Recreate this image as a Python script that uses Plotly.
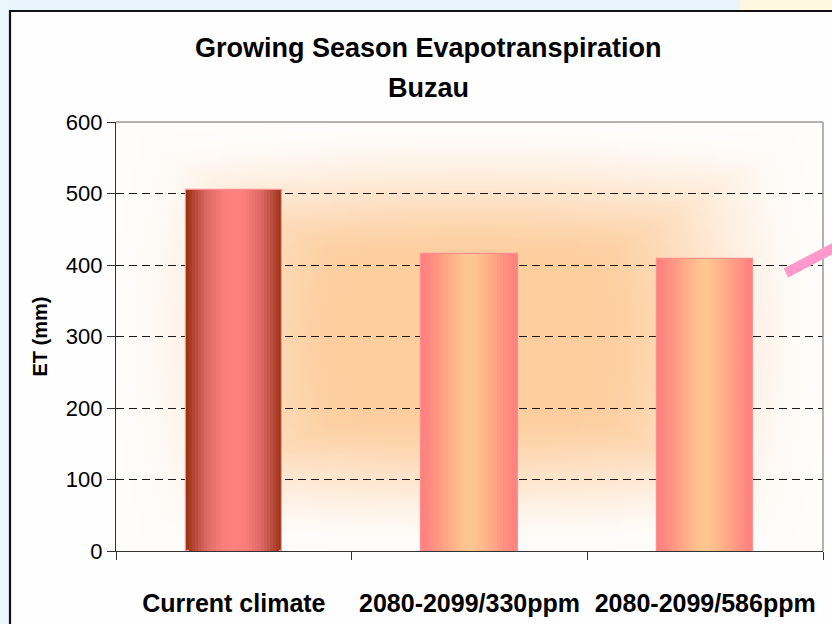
import base64, struct, zlib
import numpy as np
import plotly.graph_objects as go

# ---------------- data ----------------
categories = ["Current climate", "2080-2099/330ppm", "2080-2099/586ppm"]
et_mm = [505, 415, 409]
y_ticks = [0, 100, 200, 300, 400, 500, 600]
title_line1 = "Growing Season Evapotranspiration"
title_line2 = "Buzau"
y_title = "ET (mm)"

# ---------------- geometry helpers ----------------
W, H = 832, 624
ML, MR, MT, MB = 116, 9, 122, 73
PW, PH = W - ML - MR, H - MT - MB


def xp(px):
    return (px - ML) / PW


def yp(py):
    return (H - MB - py) / PH


FONT = "Liberation Sans, Arial, sans-serif"

# ---------------- background glow image (decoration) ----------------
def png_uri(arr):
    h, w, _ = arr.shape
    raw = b"".join(b"\x00" + arr[r].tobytes() for r in range(h))

    def chunk(t, d):
        return struct.pack(">I", len(d)) + t + d + struct.pack(">I", zlib.crc32(t + d) & 0xFFFFFFFF)

    png = (b"\x89PNG\r\n\x1a\n" + chunk(b"IHDR", struct.pack(">IIBBBBB", w, h, 8, 2, 0, 0, 0))
           + chunk(b"IDAT", zlib.compress(raw, 9)) + chunk(b"IEND", b""))
    return "data:image/png;base64," + base64.b64encode(png).decode()


gw, gh = 180, 110
gx = (np.arange(gw) + 0.5) / gw
gy = (np.arange(gh) + 0.5) / gh
GX, GY = np.meshgrid(gx, gy)
dx = np.abs(GX - 0.5) / 0.5
dy = np.abs(GY - 0.5) / 0.5
t = np.maximum(dx, dy) * 0.7 + np.sqrt(dx ** 2 + dy ** 2) / np.sqrt(2) * 0.3
s = np.clip((t - 0.3) / (0.92 - 0.3), 0, 1)
s = s * s * (3 - 2 * s)
c_in = np.array([253, 206, 158], float)
c_out = np.array([255, 253, 251], float)
img = (c_in[None, None, :] * (1 - s[..., None]) + c_out[None, None, :] * s[..., None]).astype(np.uint8)
glow_uri = png_uri(img)

# ---------------- bars with horizontal gradient (overlay layers) ----------------
def hex2rgb(h):
    h = h.lstrip("#")
    return np.array([int(h[i:i + 2], 16) for i in (0, 2, 4)], float)


def interp(stops, v):
    for (a, ca), (b, cb) in zip(stops[:-1], stops[1:]):
        if a <= v <= b:
            f = 0 if b == a else (v - a) / (b - a)
            c = hex2rgb(ca) * (1 - f) + hex2rgb(cb) * f
            return "rgb(%d,%d,%d)" % tuple(c.round())
    return stops[-1][1]


# s = 0 centre of bar, 1 edge
grad_first = [(0.0, "#ff8080"), (0.25, "#fc7e7c"), (0.6, "#dc6a64"), (0.85, "#b8483a"), (1.0, "#9c3518")]
grad_other = [(0.0, "#fdc992"), (0.2, "#fec08e"), (0.55, "#ffa385"), (0.85, "#ff8a80"), (1.0, "#ff8080")]
bar_grads = [grad_first, grad_other, grad_other]

BAR_W = 0.41
N = 16
fig = go.Figure()
for k in range(N):
    sv = 1 - k / N
    cols = [interp(g, sv) for g in bar_grads]
    fig.add_trace(go.Bar(
        x=categories, y=et_mm, width=BAR_W * sv,
        marker=dict(color=cols,
                    line=dict(color="#ff9090" if k == 0 else "rgba(0,0,0,0)", width=1.2 if k == 0 else 0)),
        hoverinfo="skip", showlegend=False,
    ))

# ---------------- decorations ----------------
shapes = [
    # light slide background strips
    dict(type="rect", xref="paper", yref="paper", x0=xp(-5), x1=xp(840), y0=yp(10), y1=yp(-5),
         fillcolor="#e8f5fc", line=dict(width=0), layer="below"),
    dict(type="rect", xref="paper", yref="paper", x0=xp(740), x1=xp(840), y0=yp(10), y1=yp(-5),
         fillcolor="#fdf8df", line=dict(width=0), layer="below"),
    dict(type="rect", xref="paper", yref="paper", x0=xp(-5), x1=xp(9), y0=yp(630), y1=yp(-5),
         fillcolor="#eaf6fb", line=dict(width=0), layer="below"),
    # chart frame
    dict(type="rect", xref="paper", yref="paper", x0=xp(10), x1=xp(850), y0=yp(640), y1=yp(11),
         line=dict(color="#111111", width=2.2), fillcolor="rgba(0,0,0,0)", layer="above"),
    # plot area top and right border
    dict(type="line", xref="paper", yref="paper", x0=0, x1=1, y0=1, y1=1,
         line=dict(color="#9a9a9a", width=1.5), layer="above"),
    dict(type="line", xref="paper", yref="paper", x0=1, x1=1, y0=0, y1=1,
         line=dict(color="#9a9a9a", width=1.5), layer="above"),
    # pink slide stroke
    dict(type="line", xref="paper", yref="paper", x0=xp(786), y0=yp(273), x1=xp(845), y1=yp(242),
         line=dict(color="#ff99cc", width=10), layer="above"),
]

annotations = [
    dict(text="<b>%s</b>" % title_line1, xref="paper", yref="paper", x=xp(428), y=yp(48),
         xanchor="center", yanchor="middle", showarrow=False,
         font=dict(family=FONT, size=27, color="#000000")),
    dict(text="<b>%s</b>" % title_line2, xref="paper", yref="paper", x=xp(428), y=yp(88),
         xanchor="center", yanchor="middle", showarrow=False,
         font=dict(family=FONT, size=27, color="#000000")),
]

fig.update_layout(
    width=W, height=H,
    margin=dict(l=ML, r=MR, t=MT, b=MB, autoexpand=False),
    paper_bgcolor="#fefefe",
    plot_bgcolor="rgba(0,0,0,0)",
    barmode="overlay",
    bargap=0,
    showlegend=False,
    shapes=shapes,
    annotations=annotations,
    images=[dict(source=glow_uri, xref="paper", yref="paper", x=0, y=1, sizex=1, sizey=1,
                 sizing="stretch", xanchor="left", yanchor="top", layer="below")],
    font=dict(family=FONT, color="#000000"),
)

fig.update_xaxes(
    type="category", range=[-0.5, 2.5], tickson="boundaries",
    ticks="outside", ticklen=8, tickcolor="#333333", tickwidth=1,
    showline=True, linecolor="#333333", linewidth=1.2,
    showgrid=False, zeroline=False,
    tickfont=dict(family=FONT, size=25, color="#000000", weight="bold"),
    ticklabelstandoff=30,
)
fig.update_yaxes(
    range=[0, 600], tickvals=y_ticks, ticktext=[str(v) for v in y_ticks],
    ticks="outside", ticklen=8, tickcolor="#333333",
    showline=True, linecolor="#333333", linewidth=1.2,
    showgrid=True, gridcolor="#1a1a1a", gridwidth=1, griddash="8px,5px",
    zeroline=False,
    tickfont=dict(family=FONT, size=22, color="#000000"),
    title=dict(text="<b>%s</b>" % y_title, font=dict(family=FONT, size=20, color="#000000"), standoff=12),
)

fig.write_html("out.html")
